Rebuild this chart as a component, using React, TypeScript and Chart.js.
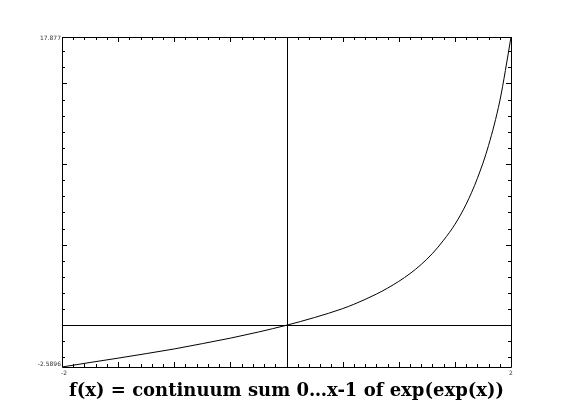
import React, { useEffect, useRef } from "react";
import { Chart, registerables } from "chart.js";

Chart.register(...registerables);

const xValues = [-2, -1.75, -1.5, -1.25, -1, -0.75, -0.5, -0.25, 0, 0.25, 0.5, 0.6, 0.7, 0.8, 0.9, 1, 1.1, 1.2, 1.3, 1.4, 1.5, 1.6, 1.7, 1.8, 1.9, 1.95, 2];
const yValues = [-2.5896, -2.31, -2.04, -1.76, -1.47, -1.14, -0.8, -0.42, 0, 0.48, 1.03, 1.3, 1.6, 1.93, 2.3, 2.72, 3.2, 3.77, 4.45, 5.28, 6.25, 7.5, 9.1, 11.15, 13.9, 15.8, 17.877];
const xMin = -2;
const xMax = 2;
const yMin = -2.5896;
const yMax = 17.877;
const yMinLabel = "-2.5896";
const yMaxLabel = "17.877";
const xMinLabel = "-2";
const xMaxLabel = "2";
const titleText = "f(x) = continuum sum 0\u2026x-1 of exp(exp(x))";

const framePlugin = {
  id: "frame",
  afterDraw(chart: any) {
    const { ctx, chartArea } = chart;
    const { left, right, top, bottom } = chartArea;
    const xs = chart.scales.x;
    const ys = chart.scales.y;
    ctx.save();
    ctx.strokeStyle = "#000";
    ctx.lineWidth = 1;
    ctx.beginPath();
    ctx.rect(Math.round(left) + 0.5, Math.round(top) + 0.5, Math.round(right - left), Math.round(bottom - top));
    const x0 = Math.round(xs.getPixelForValue(0)) + 0.5;
    const y0 = Math.round(ys.getPixelForValue(0)) + 0.5;
    ctx.moveTo(x0, top);
    ctx.lineTo(x0, bottom);
    ctx.moveTo(left, y0);
    ctx.lineTo(right, y0);
    for (let i = 0; i <= 40; i++) {
      const v = xMin + i * 0.1;
      const px = Math.round(xs.getPixelForValue(v)) + 0.5;
      const len = i % 5 === 0 ? 5 : 3;
      ctx.moveTo(px, top);
      ctx.lineTo(px, top + len);
      ctx.moveTo(px, bottom);
      ctx.lineTo(px, bottom - len);
    }
    for (let v = -2; v <= 17; v++) {
      const py = Math.round(ys.getPixelForValue(v)) + 0.5;
      const len = v % 5 === 0 ? 5 : 3;
      ctx.moveTo(left, py);
      ctx.lineTo(left + len, py);
      ctx.moveTo(right, py);
      ctx.lineTo(right - len, py);
    }
    ctx.stroke();

    ctx.fillStyle = "#333";
    ctx.font = "6px 'DejaVu Sans'";
    ctx.textAlign = "right";
    ctx.textBaseline = "middle";
    ctx.fillText(yMaxLabel, left - 1, top + 1);
    ctx.fillText(yMinLabel, left - 1, bottom - 3);
    ctx.textAlign = "center";
    ctx.textBaseline = "top";
    ctx.fillText(xMinLabel, left + 2, bottom + 3);
    ctx.fillText(xMaxLabel, right, bottom + 3);

    ctx.fillStyle = "#000";
    ctx.font = "bold 18px 'DejaVu Serif'";
    ctx.textAlign = "center";
    ctx.textBaseline = "alphabetic";
    ctx.fillText(titleText, (left + right) / 2, 396);
    ctx.restore();
  },
};

export default function App() {
  const ref = useRef<HTMLCanvasElement>(null);
  useEffect(() => {
    document.body.style.margin = "0";
    const canvas = ref.current;
    if (!canvas) return;
    const chart = new Chart(canvas, {
      type: "line",
      data: {
        datasets: [
          {
            data: xValues.map((x, i) => ({ x, y: yValues[i] })),
            borderColor: "#000",
            borderWidth: 1,
            pointRadius: 0,
            fill: false,
            cubicInterpolationMode: "monotone",
          },
        ],
      },
      options: {
        animation: false,
        responsive: false,
        devicePixelRatio: 1,
        layout: { padding: { left: 62, right: 74, top: 37, bottom: 46 } },
        plugins: { legend: { display: false }, tooltip: { enabled: false }, title: { display: false } },
        scales: {
          x: { type: "linear", min: xMin, max: xMax, display: false },
          y: { type: "linear", min: yMin, max: yMax, display: false },
        },
      },
      plugins: [framePlugin],
    });
    return () => chart.destroy();
  }, []);
  return <canvas ref={ref} width={585} height={413} style={{ display: "block" }} />;
}
